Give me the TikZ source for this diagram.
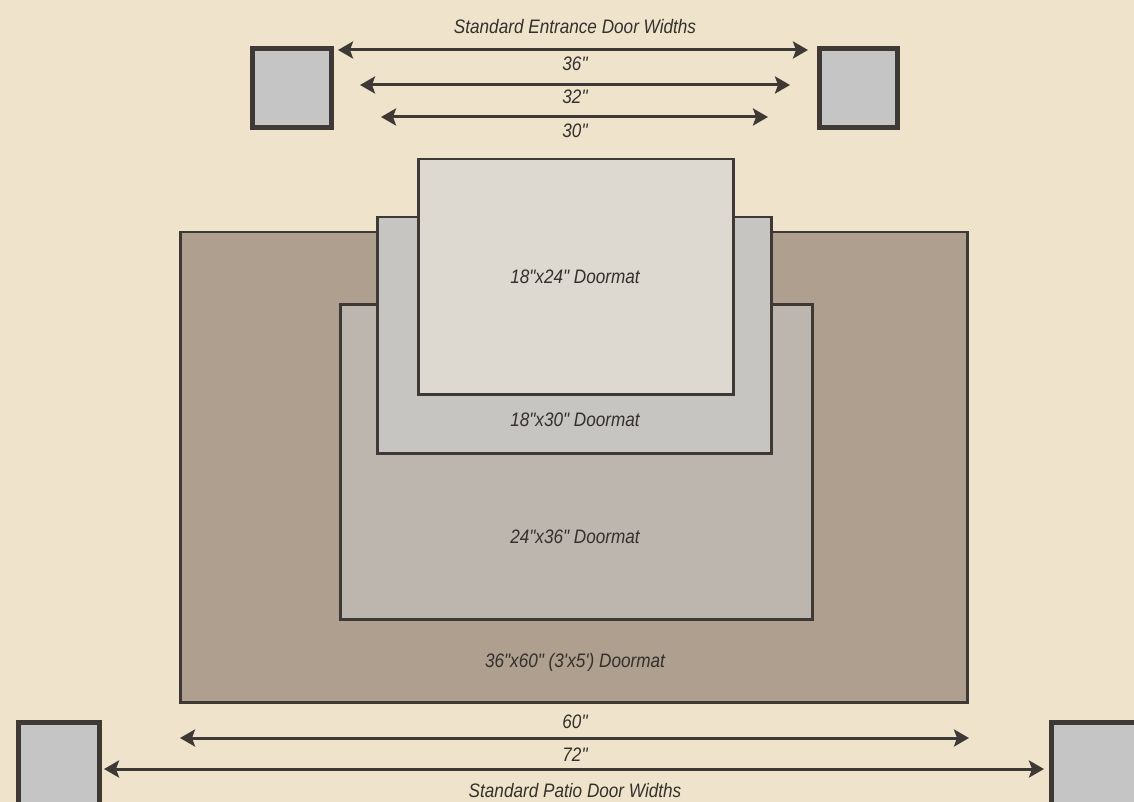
\documentclass[tikz,border=0pt]{standalone}
\usepackage{fontspec}
\setmainfont{Liberation Sans}
\newfontfamily\labfont[FakeStretch=0.88]{Liberation Sans}
\usetikzlibrary{arrows.meta}
\definecolor{bgc}{HTML}{EFE4CB}
\definecolor{edge}{HTML}{3E3934}
\definecolor{doorfill}{HTML}{C6C5C6}
\definecolor{bigfill}{HTML}{AE9F8F}
\definecolor{midfill}{HTML}{BDB6AE}
\definecolor{m30fill}{HTML}{C7C5C1}
\definecolor{smallfill}{HTML}{DDD9D1}
\definecolor{txt}{HTML}{34302D}
\tikzset{
  door/.style={draw=edge, line width=5pt, fill=doorfill, anchor=north west, inner sep=0pt},
  mat/.style={draw=edge, line width=2.5pt, anchor=north west, inner sep=0pt},
  lab/.style={font=\labfont\itshape\fontsize{19.5}{19.5}\selectfont, text=txt, inner sep=0pt},
  dim/.style={draw=edge, line width=3pt, {Stealth[length=15pt,width=17pt,inset=3pt]}-{Stealth[length=15pt,width=17pt,inset=3pt]}},
}
\begin{document}
\begin{tikzpicture}[x=1pt,y=-1pt]
\fill[bgc] (0,0) rectangle (1134,802);
\useasboundingbox (0,0) rectangle (1134,802);
% mats
\node[mat, fill=bigfill, minimum width=787pt, minimum height=470pt] (m60) at (179,231) {};
\node[mat, fill=midfill, minimum width=472pt, minimum height=315pt] (m36) at (339,303) {};
\node[mat, fill=m30fill, minimum width=394pt, minimum height=236pt] (m30) at (376,216) {};
\node[mat, fill=smallfill, minimum width=315pt, minimum height=235pt] (m24) at (417,158) {};
\node[lab] (l24) at (575,277) {18"x24" Doormat};
\node[lab] (l30) at (575,420) {18"x30" Doormat};
\node[lab] (l36) at (575,537) {24"x36" Doormat};
\node[lab] (l60) at (575,662) {36"x60" (3'x5') Doormat};
% doors
\node[door, minimum width=79pt, minimum height=79pt] (dtl) at (250,46) {};
\node[door, minimum width=78pt, minimum height=79pt] (dtr) at (817,46) {};
\node[door, minimum width=81pt, minimum height=90pt] (dbl) at (16,720) {};
\node[door, minimum width=90pt, minimum height=90pt] (dbr) at (1049,720) {};
% top dims
\node[lab] (ttop) at (575,27) {Standard Entrance Door Widths};
\coordinate (a36l) at (338,50); \coordinate (a36r) at (808,50);
\coordinate (a32l) at (360,85); \coordinate (a32r) at (790,85);
\coordinate (a30l) at (381,117); \coordinate (a30r) at (768,117);
\draw[dim] (a36l) -- (a36r);
\draw[dim] (a32l) -- (a32r);
\draw[dim] (a30l) -- (a30r);
\node[lab] (t36) at (575,64) {36"};
\node[lab] (t32) at (575,97) {32"};
\node[lab] (t30) at (575,131) {30"};
% bottom dims
\coordinate (a60l) at (180,738); \coordinate (a60r) at (969,738);
\coordinate (a72l) at (104,769); \coordinate (a72r) at (1044,769);
\draw[dim] (a60l) -- (a60r);
\draw[dim] (a72l) -- (a72r);
\node[lab] (t60) at (575,722) {60"};
\node[lab] (t72) at (575,755) {72"};
\node[lab] (tbot) at (575,791) {Standard Patio Door Widths};
\end{tikzpicture}
\end{document}
